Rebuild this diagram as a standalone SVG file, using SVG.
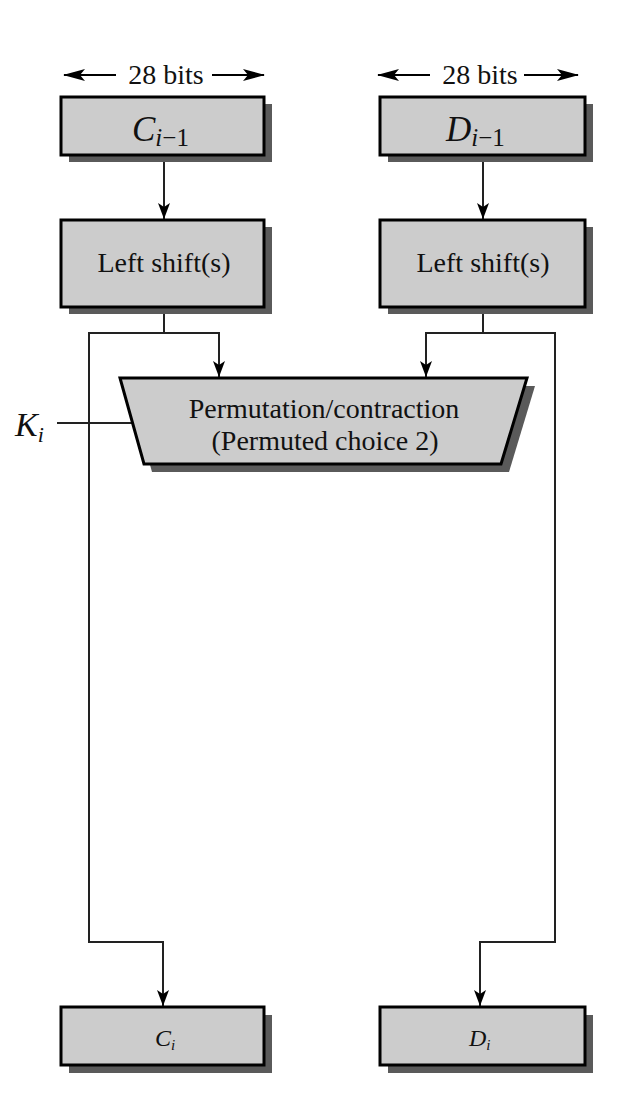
<svg xmlns="http://www.w3.org/2000/svg" width="624" height="1106" viewBox="0 0 624 1106">
<style>
.box{fill:#cccccc;stroke:#000;stroke-width:3}
.shadow{fill:#5a5a5a}
.t{font-family:"Liberation Serif","Times New Roman",serif;font-size:28px;fill:#111}
.it{font-family:"Liberation Serif","Times New Roman",serif;font-style:italic;fill:#111}
.c{fill:none;stroke:#222;stroke-width:2}
</style>
<defs>
<marker id="ah" markerWidth="16" markerHeight="12" refX="16" refY="6" orient="auto-start-reverse" markerUnits="userSpaceOnUse" viewBox="0 0 16 12">
<path d="M0,0 L16,6 L0,12 L4,6 Z" fill="#000"/>
</marker>
<marker id="dim" markerWidth="22" markerHeight="12" refX="21" refY="6" orient="auto-start-reverse" markerUnits="userSpaceOnUse" viewBox="0 0 22 12">
<path d="M0,0 L22,6 L0,12 L5,6 Z" fill="#000"/>
</marker>
</defs>
<rect width="624" height="1106" fill="#fff"/>
<g id="dim-left">
<line x1="64" y1="75" x2="116" y2="75" stroke="#000" stroke-width="2" marker-start="url(#dim)"/>
<text class="t" x="166" y="84" text-anchor="middle">28 bits</text>
<line x1="212" y1="75" x2="264" y2="75" stroke="#000" stroke-width="2" marker-end="url(#dim)"/>
</g>
<g id="dim-right">
<line x1="378" y1="75" x2="430" y2="75" stroke="#000" stroke-width="2" marker-start="url(#dim)"/>
<text class="t" x="480" y="84" text-anchor="middle">28 bits</text>
<line x1="524" y1="75" x2="578" y2="75" stroke="#000" stroke-width="2" marker-end="url(#dim)"/>
</g>
<g id="connectors">
<line class="c" x1="164" y1="157" x2="164" y2="219" marker-end="url(#ah)"/>
<line class="c" x1="483" y1="157" x2="483" y2="219" marker-end="url(#ah)"/>
<polyline class="c" points="164,308 164,333 219,333 219,377" marker-end="url(#ah)"/>
<polyline class="c" points="164,333 89,333 89,942 163,942 163,1006" marker-end="url(#ah)"/>
<polyline class="c" points="483,308 483,333 426,333 426,377" marker-end="url(#ah)"/>
<polyline class="c" points="483,333 555,333 555,942 480,942 480,1006" marker-end="url(#ah)"/>
<line class="c" x1="57" y1="423" x2="133" y2="423"/>
</g>
<g id="C-prev">
<rect class="shadow" x="69" y="104" width="203" height="58"/>
<rect class="box" x="61" y="97" width="203" height="58"/>
<text class="it" x="132" y="141" font-size="35">C<tspan font-size="25" dy="5">i</tspan><tspan font-size="25" font-style="normal">−1</tspan></text>
</g>
<g id="D-prev">
<rect class="shadow" x="388" y="104" width="205" height="58"/>
<rect class="box" x="380" y="97" width="205" height="58"/>
<text class="it" x="446" y="141" font-size="35">D<tspan font-size="25" dy="5">i</tspan><tspan font-size="25" font-style="normal">−1</tspan></text>
</g>
<g id="LS-C">
<rect class="shadow" x="69" y="227" width="203" height="87"/>
<rect class="box" x="61" y="220" width="203" height="87"/>
<text class="t" x="164" y="272" text-anchor="middle">Left shift(s)</text>
</g>
<g id="LS-D">
<rect class="shadow" x="388" y="227" width="205" height="87"/>
<rect class="box" x="380" y="220" width="205" height="87"/>
<text class="t" x="483" y="272" text-anchor="middle">Left shift(s)</text>
</g>
<g id="PC2">
<polygon class="shadow" points="128,386 535,386 509,472 152,472"/>
<polygon class="box" points="120,378 527,378 501,464 144,464"/>
<text class="t" x="324" y="418" text-anchor="middle">Permutation/contraction</text>
<text class="t" x="325" y="450" text-anchor="middle">(Permuted choice 2)</text>
</g>
<g id="Ki">
<text class="it" x="15" y="436" font-size="34">K<tspan font-size="22" dy="6">i</tspan></text>
</g>
<g id="C-out">
<rect class="shadow" x="69" y="1015" width="203" height="58"/>
<rect class="box" x="61" y="1007" width="203" height="58"/>
<text class="it" x="155" y="1046" font-size="24">C<tspan font-size="15" dy="4">i</tspan></text>
</g>
<g id="D-out">
<rect class="shadow" x="388" y="1015" width="205" height="58"/>
<rect class="box" x="380" y="1007" width="205" height="58"/>
<text class="it" x="469" y="1046" font-size="24">D<tspan font-size="15" dy="4">i</tspan></text>
</g>
</svg>
